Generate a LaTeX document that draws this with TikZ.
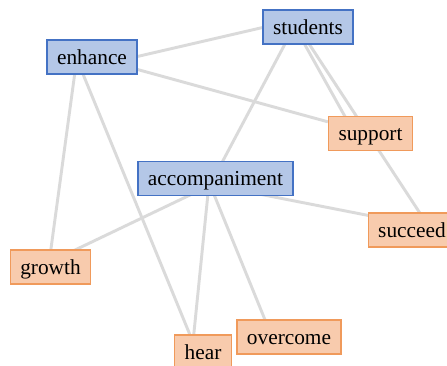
\documentclass[tikz,border=0pt]{standalone}
\usepackage{fontspec}
\setmainfont{Liberation Serif}
\usetikzlibrary{backgrounds}
\definecolor{keyfill}{HTML}{B4C7E7}
\definecolor{keyline}{HTML}{4472C4}
\definecolor{termfill}{HTML}{F8CBAD}
\definecolor{termline}{HTML}{F09A5B}
\definecolor{linkgray}{HTML}{DADADA}
\begin{document}
\begin{tikzpicture}[x=.75pt,y=-.75pt,
  word/.style={draw,line width=.9pt,minimum height=25.5pt,inner xsep=7.5pt,inner ysep=0pt,
    text height=12pt,text depth=1pt,font=\fontsize{16}{19}\selectfont},
  keyw/.style={word,fill=keyfill,draw=keyline},
  termw/.style={word,fill=termfill,draw=termline},
  link/.style={linkgray,line width=2.2pt}]
\useasboundingbox (0,0) rectangle (447,365);
\clip (0,0) rectangle (447,365);
\node[keyw] (students) at (308,27) {students};
\node[keyw] (enhance) at (92,57) {enhance};
\node[keyw] (accomp) at (215.5,178.5) {accompaniment};
\node[termw] (support) at (370.5,133.5) {support};
\node[termw] (succeed) at (412,230) {succeed};
\node[termw] (growth) at (50.5,267) {growth};
\node[termw] (hear) at (203,352) {hear};
\node[termw] (overcome) at (289,337) {overcome};
% links sit behind the boxes
\begin{pgfonlayer}{background}
\draw[link] ([shift={(0,10)}]enhance.center) -- ([shift={(0,-10)}]students.center);
\draw[link] (enhance) -- (support);
\draw[link] ([shift={(-15,0)}]enhance.center) -- ([shift={(-2,0)}]growth.center);
\draw[link] ([shift={(-16,0)}]enhance.center) -- ([shift={(-6,0)}]hear.center);
\draw[link] ([shift={(-13,0)}]students.center) -- ([shift={(-16,0)}]support.center);
\draw[link] ([shift={(-10,0)}]students.center) -- ([shift={(19,0)}]succeed.center);
\draw[link] ([shift={(-14,0)}]students.center) -- ([shift={(-2,0)}]accomp.center);
\draw[link] ([shift={(9,0)}]accomp.center) -- ([shift={(-11,0)}]growth.center);
\draw[link] ([shift={(-6,0)}]accomp.center) -- ([shift={(-11,0)}]hear.center);
\draw[link] ([shift={(-8,0)}]accomp.center) -- ([shift={(-17,0)}]overcome.center);
\draw[link] ([shift={(0,7)}]accomp.center) -- ([shift={(0,-6)}]succeed.center);
\end{pgfonlayer}
\end{tikzpicture}
\end{document}
